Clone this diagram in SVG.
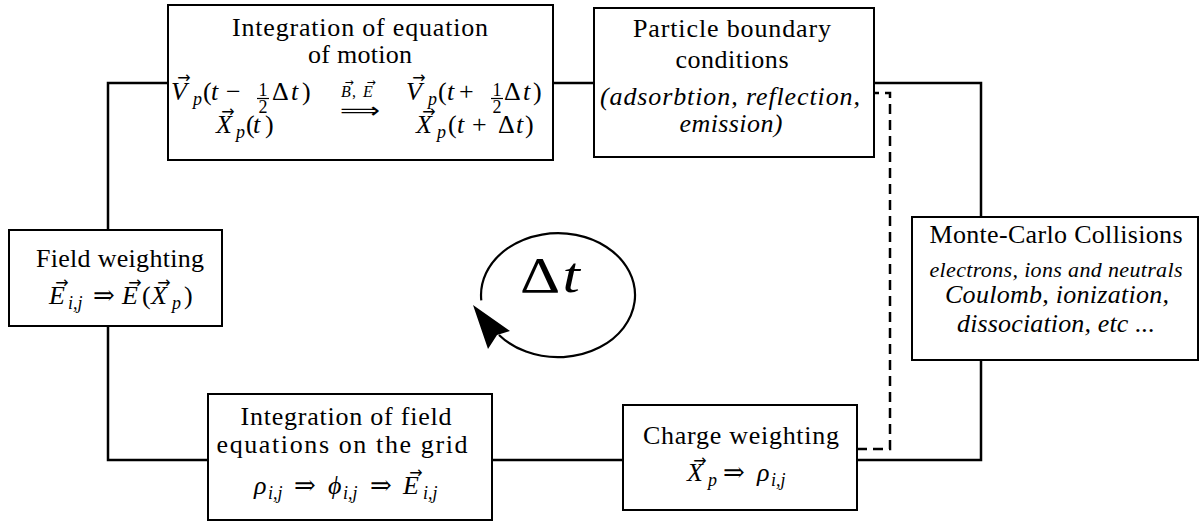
<svg xmlns="http://www.w3.org/2000/svg" width="1200" height="522" viewBox="0 0 1200 522">
<style>
.box{fill:#fff;stroke:#000;stroke-width:2}
.wire{fill:none;stroke:#000;stroke-width:2.5}
.dash{fill:none;stroke:#000;stroke-width:2.5;stroke-dasharray:10 6}
.t{font-family:"Liberation Serif","DejaVu Serif",serif;font-size:26px;fill:#000}
.c{text-anchor:middle}
.it{font-style:italic}
.m{font-family:"Liberation Serif","DejaVu Serif",serif;font-size:26px;font-style:italic;fill:#000}
.r{font-style:normal}
.sub{font-size:18px}
.vec{font-family:"DejaVu Sans",sans-serif;font-size:16px;font-style:normal;text-anchor:middle}
.sv{font-size:11px}
.arr{font-family:"DejaVu Serif",serif;font-style:normal}
.fr{font-size:18px;font-style:normal;text-anchor:middle}
.bar{stroke:#000;stroke-width:1.2}
</style>
<rect width="1200" height="522" fill="#fff"/>

<g id="connectors">
<path class="wire" d="M168 83 H108 V230"/>
<path class="wire" d="M108 326 V460 H208"/>
<path class="wire" d="M553 83 H594"/>
<path class="wire" d="M874 83 H981 V217"/>
<path class="wire" d="M981 360 V460 H857"/>
<path class="wire" d="M623 460 H492"/>
<path class="dash" d="M857 449 H890 V93 H874"/>
</g>

<g id="motion">
<rect class="box" x="168" y="5" width="385" height="155"/>
<text class="t c" x="360" y="36" textLength="256">Integration of equation</text>
<text class="t c" x="360" y="63" textLength="104">of motion</text>
<text class="m"><tspan x="171" y="100">V</tspan><tspan class="vec" x="184" y="83">→</tspan><tspan class="sub" x="193" y="105">p</tspan><tspan class="r" x="203" y="100">(</tspan><tspan x="211" y="100">t</tspan><tspan class="r" x="226" y="100">−</tspan><tspan class="fr" x="263" y="96">1</tspan><tspan class="fr" x="263" y="113">2</tspan><tspan class="r" x="272" y="100">Δ</tspan><tspan x="291" y="100">t</tspan><tspan class="r" x="302" y="100">)</tspan><tspan class="vec" x="228" y="117">→</tspan><tspan x="216" y="133">X</tspan><tspan class="sub" x="236" y="138">p</tspan><tspan class="r" x="246" y="133">(</tspan><tspan x="253" y="133">t</tspan><tspan class="r" x="265" y="133">)</tspan></text>
<line class="bar" x1="257" y1="98.5" x2="269" y2="98.5"/>
<text class="m" style="font-size:16px"><tspan class="vec sv" x="349" y="86">→</tspan><tspan class="vec sv" x="371" y="86">→</tspan><tspan x="341" y="97">B</tspan><tspan class="r" x="352" y="97">,</tspan><tspan x="363" y="97">E</tspan></text>
<text x="340" y="118" style="font-family:'DejaVu Sans',sans-serif;font-size:22px" textLength="40" lengthAdjust="spacingAndGlyphs">⟹</text>
<text class="m"><tspan x="406" y="100">V</tspan><tspan class="vec" x="419" y="83">→</tspan><tspan class="sub" x="428" y="105">p</tspan><tspan class="r" x="438" y="100">(</tspan><tspan x="447" y="100">t</tspan><tspan class="r" x="459" y="100">+</tspan><tspan class="fr" x="497" y="96">1</tspan><tspan class="fr" x="497" y="113">2</tspan><tspan class="r" x="504" y="100">Δ</tspan><tspan x="523" y="100">t</tspan><tspan class="r" x="533" y="100">)</tspan><tspan class="vec" x="429" y="117">→</tspan><tspan x="416" y="133">X</tspan><tspan class="sub" x="437" y="138">p</tspan><tspan class="r" x="448" y="133">(</tspan><tspan x="457" y="133">t</tspan><tspan class="r" x="472" y="133">+</tspan><tspan class="r" x="498" y="133">Δ</tspan><tspan x="516" y="133">t</tspan><tspan class="r" x="525" y="133">)</tspan></text>
<line class="bar" x1="491" y1="98.5" x2="503" y2="98.5"/>
</g>

<g id="boundary">
<rect class="box" x="594" y="8" width="280" height="149"/>
<text class="t c" x="732" y="37" textLength="198">Particle boundary</text>
<text class="t c" x="732" y="68" textLength="113">conditions</text>
<text class="t c it" x="730" y="105" textLength="260">(adsorbtion, reflection,</text>
<text class="t c it" x="731" y="132" textLength="103">emission)</text>
</g>

<g id="collisions">
<rect class="box" x="912" y="217" width="286" height="143"/>
<text class="t c" x="1056" y="243" textLength="253">Monte-Carlo Collisions</text>
<text class="t c it" x="1056" y="277" style="font-size:22px" textLength="253">electrons, ions and neutrals</text>
<text class="t c it" x="1057" y="303" textLength="224">Coulomb, ionization,</text>
<text class="t c it" x="1056" y="332" textLength="198">dissociation, etc ...</text>
</g>

<g id="charge">
<rect class="box" x="623" y="405" width="234" height="105"/>
<text class="t c" x="741" y="444" textLength="196">Charge weighting</text>
<text class="m"><tspan class="vec" x="700" y="466">→</tspan><tspan x="687" y="481">X</tspan><tspan class="sub" x="708" y="486">p</tspan><tspan class="arr" x="723" y="481">⇒</tspan><tspan x="757" y="481">ρ</tspan><tspan class="sub" x="771" y="486">i,j</tspan></text>
</g>

<g id="field-solve">
<rect class="box" x="208" y="394" width="284" height="126"/>
<text class="t c" x="346" y="425" textLength="211">Integration of field</text>
<text class="t c" x="342" y="453" textLength="251">equations on the grid</text>
<text class="m"><tspan x="254" y="494">ρ</tspan><tspan class="sub" x="268" y="499">i,j</tspan><tspan class="arr" x="294" y="494">⇒</tspan><tspan x="328" y="494">ϕ</tspan><tspan class="sub" x="343" y="499">i,j</tspan><tspan class="arr" x="370" y="494">⇒</tspan><tspan class="vec" x="416" y="478">→</tspan><tspan x="403" y="494">E</tspan><tspan class="sub" x="423" y="499">i,j</tspan></text>
</g>

<g id="field-weight">
<rect class="box" x="9" y="230" width="213" height="96"/>
<text class="t c" x="120" y="267" textLength="168">Field weighting</text>
<text class="m"><tspan class="vec" x="62" y="288">→</tspan><tspan x="49" y="304">E</tspan><tspan class="sub" x="68" y="309">i,j</tspan><tspan class="arr" x="93" y="304">⇒</tspan><tspan class="vec" x="135" y="288">→</tspan><tspan x="122" y="304">E</tspan><tspan class="r" x="142" y="304">(</tspan><tspan class="vec" x="164" y="288">→</tspan><tspan x="151" y="304">X</tspan><tspan class="sub" x="172" y="309">p</tspan><tspan class="r" x="184" y="304">)</tspan></text>
</g>

<g id="cycle">
<path class="wire" style="stroke-width:2.2" d="M481.3 300.4 A77 62 0 1 1 499 335"/>
<polygon points="473,305 510,331 497,335 488,349" fill="#000"/>
<text class="t" style="font-size:50px" transform="translate(520 292) scale(1.25 1)"><tspan x="0" y="0">Δ</tspan><tspan class="it" x="34" y="0">t</tspan></text>
</g>
</svg>
